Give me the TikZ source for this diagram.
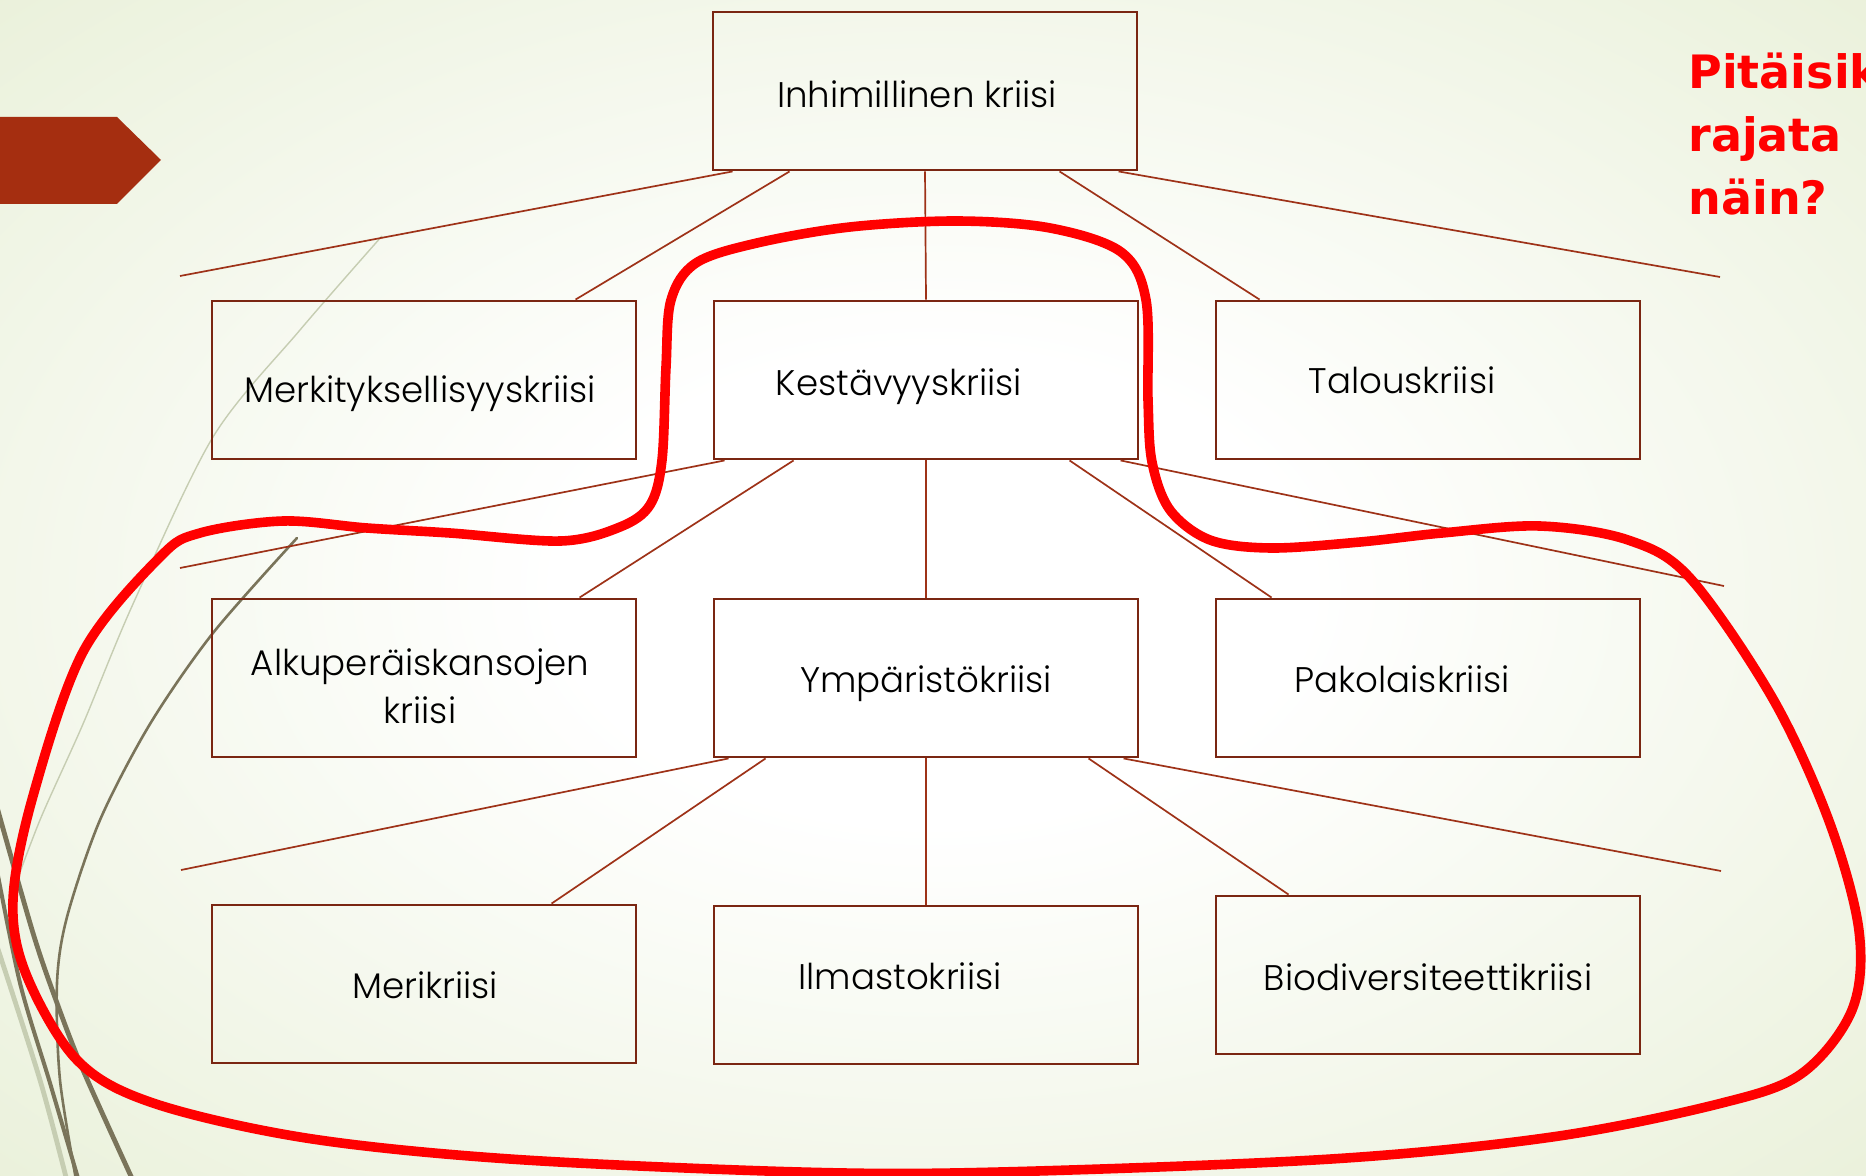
\documentclass[tikz,border=0pt]{standalone}
\usepackage{fontspec}
\newfontfamily\boxfont{Poppins}[UprightFont={* Light}]
\newfontfamily\askfont{DejaVu Sans}
\definecolor{boxline}{RGB}{122,38,18}
\definecolor{linkline}{RGB}{158,50,24}
\definecolor{bggreen}{RGB}{221,232,196}
\definecolor{arrowred}{RGB}{165,46,16}
\definecolor{grass}{RGB}{122,116,90}
\definecolor{paleline}{RGB}{198,205,178}
\definecolor{loopred}{RGB}{255,0,0}
\pgfdeclareradialshading{slidebg}{\pgfpoint{0bp}{0bp}}{color(0bp)=(white); color(10bp)=(white); color(52bp)=(bggreen); color(75bp)=(bggreen)}
\tikzset{box/.style={draw=boxline, line width=1.45pt, minimum width=212pt, minimum height=79pt, inner sep=0pt},
lbl/.style={anchor=base, inner sep=0pt, align=center, font=\boxfont\fontsize{17.8}{24}\selectfont},
link/.style={draw=linkline, line width=0.85pt},
%grass strokes at the left edge
grassline/.style={draw=grass, line cap=round}}

\begin{document}
\begin{tikzpicture}[x=0.5pt,y=-0.5pt]

    \shade[shading=slidebg] (0,0) rectangle (1866,1176);
    \clip (0,0) rectangle (1866,1176);

    \draw[paleline, line width=0.7pt] plot[smooth] coordinates {(382,236) (300,330) (213,437) (133,604) (83,724) (40,820) (8,905)};
    \draw[paleline, line width=2.4pt] plot[smooth] coordinates {(-5,940) (40,1080) (68,1185)};
    \draw[grassline, line width=1.3pt] plot[smooth] coordinates {(297,538) (213,633) (150,724) (100,820) (67,917) (57,983) (60,1080) (77,1185)};
    \draw[grassline, line width=2.4pt] plot[smooth] coordinates {(-5,800) (33,933) (57,1003) (83,1070) (135,1185)};
    \draw[grassline, line width=2pt] plot[smooth] coordinates {(-5,860) (20,983) (50,1083) (80,1185)};

    \fill[arrowred] (-5,117) -- (117,117) -- (161,160) -- (117,204) -- (-5,204) -- cycle;

    \node[box] (hum) at (925,91) {};
    \node[box] (merk) at (424,380) {};
    \node[box] (kest) at (926,380) {};
    \node[box] (talo) at (1428,380) {};
    \node[box] (alku) at (424,678) {};
    \node[box] (ymp) at (926,678) {};
    \node[box] (pako) at (1428,678) {};
    \node[box] (meri) at (424,984) {};
    \node[box] (ilma) at (926,985) {};
    \node[box] (bio) at (1428,975) {};

    % loose ends of the fan lines
    \coordinate (0) at (180,276);
    \coordinate (1) at (1720,277);
    \coordinate (2) at (180,568);
    \coordinate (3) at (1724,586);
    \coordinate (4) at (181,870);
    \coordinate (5) at (1721,871);

    \draw[link] ([xshift=10.5pt]hum.south west) -- (0);
    \draw[link] ([xshift=39pt]hum.south west) -- ([xshift=182.5pt]merk.north west);
    \draw[link] (hum.south) -- (kest.north);
    \draw[link] ([xshift=174pt]hum.south west) -- ([xshift=22.5pt]talo.north west);
    \draw[link] ([xshift=203.5pt]hum.south west) -- (1);

    \draw[link] ([xshift=6pt]kest.south west) -- (2);
    \draw[link] ([xshift=40.5pt]kest.south west) -- ([xshift=184.5pt]alku.north west);
    \draw[link] (kest.south) -- (ymp.north);
    \draw[link] ([xshift=178.5pt]kest.south west) -- ([xshift=28.5pt]pako.north west);
    \draw[link] ([xshift=204pt]kest.south west) -- (3);

    \draw[link] ([xshift=8pt]ymp.south west) -- (4);
    \draw[link] ([xshift=26.5pt]ymp.south west) -- ([xshift=170.5pt]meri.north west);
    \draw[link] (ymp.south) -- (ilma.north);
    \draw[link] ([xshift=188pt]ymp.south west) -- ([xshift=37pt]bio.north west);
    \draw[link] ([xshift=205.5pt]ymp.south west) -- (5);

    \node[lbl] (humT) at (917,108) {Inhimillinen kriisi};
    \node[lbl] (merkT) at (420,402) {Merkityksellisyyskriisi};
    \node[lbl] (kestT) at (899,395) {Kestävyyskriisi};
    \node[lbl] (taloT) at (1402,393) {Talouskriisi};
    \node[lbl] (alkuT) at (420,723) {Alkuperäiskansojen\\kriisi};
    \node[lbl] (ympT) at (926,692) {Ympäristökriisi};
    \node[lbl] (pakoT) at (1402,692) {Pakolaiskriisi};
    \node[lbl] (meriT) at (425,998) {Merikriisi};
    \node[lbl] (ilmaT) at (900,989) {Ilmastokriisi};
    \node[lbl] (bioT) at (1428,990) {Biodiversiteettikriisi};

    % the hand drawn ring
    \draw[loopred, line width=4.8pt] plot[smooth cycle, tension=0.55] coordinates {
      (957,221) (1050,228) (1121,252) (1146,300) (1148,400) (1152,462) (1170,510) (1210,540)
      (1271,548) (1360,542) (1442,533) (1540,526) (1628,540) (1690,578) (1773,699) (1829,821)
      (1859,931) (1852,1010) (1801,1074) (1718,1104) (1552,1137) (1331,1159) (1000,1172) (800,1172)
      (510,1159) (306,1138) (153,1103) (77,1060) (26,974) (13,900) (33,796) (83,652)
      (160,557) (200,533) (283,521) (367,528) (450,533) (561,541) (620,527) (650,505)
      (662,460) (666,367) (671,300) (696,263) (757,243) (850,227)};

    \node[anchor=base west, inner sep=0pt, align=left, text=loopred, font=\askfont\bfseries\fontsize{23}{31.5}\selectfont] (ask) at (1688,215) {Pitäisikö\\rajata\\näin?};

\end{tikzpicture}
\end{document}
